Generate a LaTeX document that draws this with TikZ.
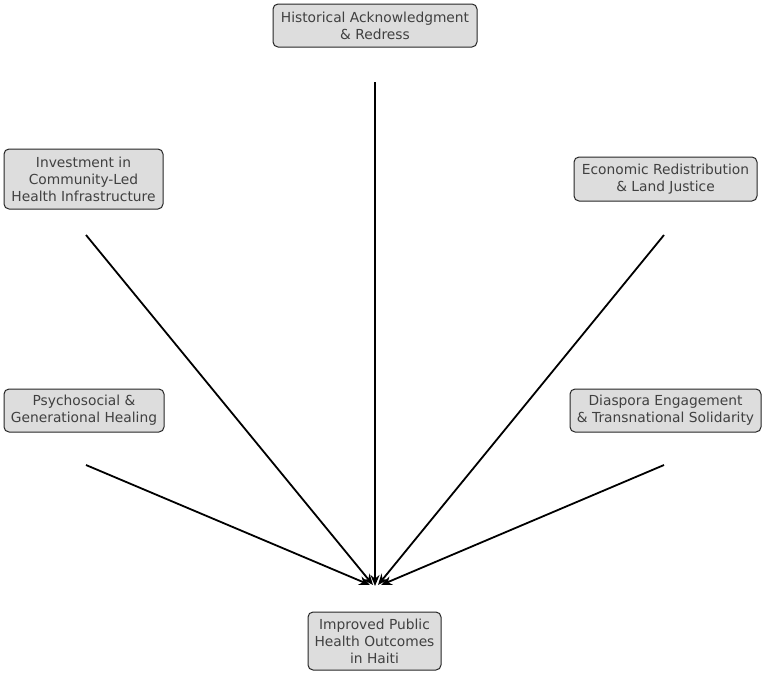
\documentclass[tikz,border=0pt]{standalone}
\usepackage{fontspec}
\setmainfont{DejaVu Sans}
\usetikzlibrary{arrows.meta}
\definecolor{boxfill}{HTML}{DDDDDD}
\definecolor{txt}{HTML}{404040}
\tikzset{
  box/.style={draw=black!85, line width=1pt, fill=boxfill, rounded corners=5pt,
    text=txt, align=center, inner sep=0pt, font=\fontsize{13.8}{17}\selectfont},
  conn/.style={line width=1.8pt, -{Stealth[length=11pt,width=9pt]}}
}
\begin{document}
\begin{tikzpicture}[x=1pt,y=-1pt]
\useasboundingbox (0,0) rectangle (765,675);
\node[box, minimum width=204pt, minimum height=43pt] (hist) at (375,25.5) {Historical Acknowledgment\\\& Redress};
\node[box, minimum width=159pt, minimum height=60pt] (inv) at (83.5,179) {Investment in\\Community-Led\\Health Infrastructure};
\node[box, minimum width=183pt, minimum height=44pt] (econ) at (665.5,179) {Economic Redistribution\\\& Land Justice};
\node[box, minimum width=160pt, minimum height=43pt] (psy) at (84,410.5) {Psychosocial \&\\Generational Healing};
\node[box, minimum width=191pt, minimum height=43pt] (dia) at (665.5,410.5) {Diaspora Engagement\\\& Transnational Solidarity};
\node[box, minimum width=133pt, minimum height=58pt] (imp) at (374.5,641) {Improved Public\\Health Outcomes\\in Haiti};
\coordinate (hist-s) at (375,82);
\coordinate (inv-s) at (86,235);
\coordinate (econ-s) at (664,235);
\coordinate (psy-s) at (86,465);
\coordinate (dia-s) at (664,465);
\coordinate (e1) at (375,586);
\coordinate (e2) at (373,585);
\coordinate (e3) at (378,585);
\coordinate (e4) at (370,585);
\coordinate (e5) at (381,585);
\draw[conn] (hist-s) -- (e1);
\draw[conn] (inv-s) -- (e2);
\draw[conn] (econ-s) -- (e3);
\draw[conn] (psy-s) -- (e4);
\draw[conn] (dia-s) -- (e5);
\end{tikzpicture}
\end{document}
